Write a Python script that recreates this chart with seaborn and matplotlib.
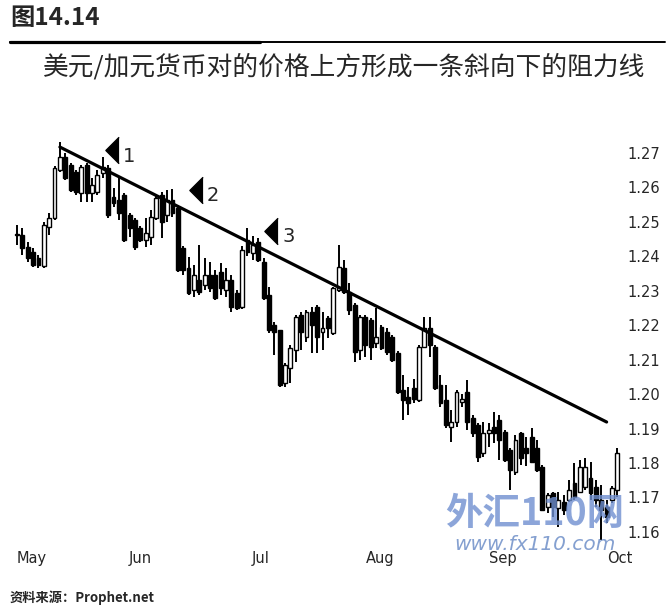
import numpy as np
import pandas as pd
import matplotlib
matplotlib.use("Agg")
import matplotlib.pyplot as plt
import seaborn as sns


OUTPUT = "out.png"

# daily USD/CAD candles, May -> Oct
opens = [
    1.2462, 1.2462, 1.2427, 1.2413, 1.2395, 1.2372, 1.2485, 1.2511, 1.2651, 1.2688,
    1.2665, 1.2645, 1.2584, 1.2665, 1.2584, 1.2587, 1.2642, 1.2656, 1.2572, 1.2564,
    1.2578, 1.2520, 1.2506, 1.2482, 1.2447, 1.2456, 1.2511, 1.2578, 1.2520, 1.2564,
    1.2540, 1.2424, 1.2366, 1.2303, 1.2332, 1.2317, 1.2346, 1.2346, 1.2355, 1.2303,
    1.2332, 1.2294, 1.2253, 1.2447, 1.2410, 1.2442, 1.2384, 1.2288, 1.2201, 1.2186,
    1.2033, 1.2076, 1.2128, 1.2230, 1.2166, 1.2238, 1.2253, 1.2180, 1.2221, 1.2178,
    1.2303, 1.2366, 1.2297, 1.2259, 1.2128, 1.2224, 1.2215, 1.2148, 1.2195, 1.2180,
    1.2166, 1.2119, 1.2012, 1.1992, 1.2018, 1.1983, 1.2137, 1.2192, 1.2137, 1.2027,
    1.1983, 1.1905, 1.1919, 1.1977, 1.2006, 1.1931, 1.1910, 1.1829, 1.1887, 1.1905,
    1.1925, 1.1890, 1.1838, 1.1774, 1.1887, 1.1844, 1.1876, 1.1844, 1.1788, 1.1672,
    1.1713, 1.1670, 1.1687, 1.1693, 1.1742, 1.1716, 1.1730, 1.1757, 1.1730, 1.1693,
    1.1672, 1.1693, 1.1722,
]
highs = [
    1.2491, 1.2482, 1.2442, 1.2424, 1.2404, 1.2500, 1.2526, 1.2662, 1.2732, 1.2700,
    1.2671, 1.2651, 1.2665, 1.2671, 1.2627, 1.2651, 1.2688, 1.2665, 1.2598, 1.2630,
    1.2584, 1.2526, 1.2511, 1.2488, 1.2511, 1.2535, 1.2578, 1.2587, 1.2593, 1.2596,
    1.2549, 1.2430, 1.2398, 1.2375, 1.2433, 1.2395, 1.2384, 1.2360, 1.2381, 1.2366,
    1.2346, 1.2303, 1.2430, 1.2482, 1.2459, 1.2453, 1.2395, 1.2311, 1.2209, 1.2186,
    1.2091, 1.2143, 1.2230, 1.2238, 1.2244, 1.2253, 1.2259, 1.2238, 1.2227, 1.2311,
    1.2433, 1.2389, 1.2323, 1.2265, 1.2230, 1.2230, 1.2221, 1.2250, 1.2201, 1.2192,
    1.2172, 1.2125, 1.2056, 1.2021, 1.2044, 1.2143, 1.2224, 1.2224, 1.2143, 1.2056,
    1.2027, 1.1954, 1.2012, 1.2000, 1.2041, 1.1940, 1.1916, 1.1919, 1.1916, 1.1948,
    1.1940, 1.1896, 1.1844, 1.1881, 1.1890, 1.1876, 1.1902, 1.1867, 1.1794, 1.1713,
    1.1716, 1.1716, 1.1707, 1.1751, 1.1800, 1.1809, 1.1815, 1.1803, 1.1751, 1.1736,
    1.1693, 1.1733, 1.1844,
]
lows = [
    1.2433, 1.2404, 1.2384, 1.2369, 1.2366, 1.2366, 1.2462, 1.2505, 1.2645, 1.2622,
    1.2587, 1.2578, 1.2558, 1.2558, 1.2558, 1.2578, 1.2627, 1.2511, 1.2543, 1.2506,
    1.2442, 1.2456, 1.2418, 1.2442, 1.2427, 1.2433, 1.2505, 1.2453, 1.2500, 1.2514,
    1.2355, 1.2346, 1.2288, 1.2282, 1.2288, 1.2303, 1.2297, 1.2274, 1.2288, 1.2282,
    1.2238, 1.2244, 1.2247, 1.2401, 1.2389, 1.2384, 1.2273, 1.2177, 1.2114, 1.2021,
    1.2021, 1.2033, 1.2093, 1.2128, 1.2151, 1.2120, 1.2120, 1.2128, 1.2163, 1.2172,
    1.2297, 1.2291, 1.2230, 1.2093, 1.2099, 1.2108, 1.2099, 1.2134, 1.2128, 1.2114,
    1.2093, 1.2000, 1.1925, 1.1940, 1.1974, 1.1977, 1.2134, 1.2108, 1.2012, 1.1963,
    1.1902, 1.1861, 1.1905, 1.1963, 1.1896, 1.1876, 1.1803, 1.1818, 1.1847, 1.1858,
    1.1809, 1.1803, 1.1722, 1.1765, 1.1794, 1.1791, 1.1800, 1.1774, 1.1660, 1.1655,
    1.1643, 1.1614, 1.1649, 1.1687, 1.1693, 1.1713, 1.1722, 1.1693, 1.1672, 1.1577,
    1.1626, 1.1684, 1.1701,
]
closes = [
    1.2465, 1.2424, 1.2395, 1.2375, 1.2375, 1.2491, 1.2511, 1.2656, 1.2688, 1.2627,
    1.2593, 1.2587, 1.2659, 1.2584, 1.2607, 1.2636, 1.2659, 1.2520, 1.2555, 1.2526,
    1.2447, 1.2482, 1.2427, 1.2447, 1.2468, 1.2514, 1.2569, 1.2500, 1.2564, 1.2526,
    1.2360, 1.2360, 1.2294, 1.2346, 1.2297, 1.2346, 1.2308, 1.2280, 1.2308, 1.2332,
    1.2253, 1.2250, 1.2418, 1.2413, 1.2433, 1.2389, 1.2279, 1.2186, 1.2180, 1.2027,
    1.2085, 1.2134, 1.2224, 1.2180, 1.2238, 1.2201, 1.2166, 1.2192, 1.2192, 1.2308,
    1.2369, 1.2297, 1.2244, 1.2122, 1.2224, 1.2143, 1.2137, 1.2166, 1.2134, 1.2122,
    1.2099, 1.2006, 1.1983, 1.1974, 1.1986, 1.2137, 1.2192, 1.2143, 1.2018, 1.1974,
    1.1910, 1.1919, 1.2006, 1.1986, 1.1919, 1.1887, 1.1818, 1.1887, 1.1896, 1.1887,
    1.1867, 1.1809, 1.1780, 1.1867, 1.1815, 1.1829, 1.1803, 1.1780, 1.1664, 1.1707,
    1.1672, 1.1693, 1.1664, 1.1722, 1.1701, 1.1789, 1.1789, 1.1713, 1.1693, 1.1664,
    1.1643, 1.1728, 1.1829,
]

month_labels = ["May", "Jun", "Jul", "Aug", "Sep", "Oct"]
month_pos = [2.8, 23.0, 45.5, 67.7, 90.6, 112.5]

price_ticks = [1.16, 1.17, 1.18, 1.19, 1.20, 1.21, 1.22, 1.23, 1.24, 1.25, 1.26, 1.27]

# resistance line touched three times
trend_x = [8.0, 110.0]
trend_y = [1.2717, 1.1919]

touch_labels = ["1", "2", "3"]
touch_x = [17.7, 33.4, 47.4]
touch_y = [1.2709, 1.2593, 1.2474]


def build_df():
    df = pd.DataFrame({"open": opens, "high": highs, "low": lows, "close": closes})
    df["day"] = np.arange(len(df))
    df["up"] = df["close"] >= df["open"]
    df["body_low"] = df[["open", "close"]].min(axis=1)
    df["body_h"] = (df["close"] - df["open"]).abs().clip(lower=0.0004)
    return df


def plot_candles(ax, df):
    ax.vlines(df["day"], df["low"], df["high"], color="black", linewidth=1.4, zorder=1)
    fills = np.where(df["up"], "white", "black")
    ax.bar(df["day"], df["body_h"], bottom=df["body_low"], width=0.72,
           color=fills, edgecolor="black", linewidth=1.0, zorder=2)


def main():
    sns.set_style("white")
    plt.rcParams["font.family"] = ["DejaVu Sans", "Noto Sans CJK SC"]

    df = build_df()

    fig = plt.figure(figsize=(6.69, 6.10), dpi=100)
    W, H = 669, 610
    ax = fig.add_axes([10 / W, 1 - 545 / H, 615 / W, 410 / H])

    plot_candles(ax, df)

    sns.lineplot(x=trend_x, y=trend_y, color="black", linewidth=2.3, ax=ax, zorder=3)

    tri = [(0.5, 1.0), (-0.5, 0.0), (0.5, -1.0)]
    ax.plot(touch_x, touch_y, linestyle="none", marker=tri, markersize=19,
            color="black", zorder=4)
    for lab, x, y in zip(touch_labels, touch_x, touch_y):
        ax.text(x + 3.2, y - 0.0018, lab, fontsize=14, ha="center", va="center")

    ax.set_xlim(-1.31, 113.43)
    ax.set_ylim(1.1562, 1.2752)
    ax.set_xticks(month_pos)
    ax.set_xticklabels(month_labels, fontsize=10.5)
    ax.set_yticks(price_ticks)
    ax.set_yticklabels([f"{t:.2f}" for t in price_ticks], fontsize=10.5)
    ax.yaxis.tick_right()
    ax.tick_params(axis="y", length=0, pad=1.5)
    ax.tick_params(axis="x", length=0, pad=4)
    for s in ax.spines.values():
        s.set_visible(False)
    ax.grid(False)

    cjk = ["Noto Sans CJK SC", "DejaVu Sans"]
    fig.text(10 / W, 1 - 18 / H, "图14.14", fontsize=17.5, fontweight="bold",
             family=cjk, ha="left", va="center")
    fig.add_artist(plt.Line2D([10 / W, 665 / W], [1 - 42 / H, 1 - 42 / H],
                              color="black", linewidth=1.4))
    fig.add_artist(plt.Line2D([10 / W, 260 / W], [1 - 42 / H, 1 - 42 / H],
                              color="black", linewidth=2.3))
    fig.text(344 / W, 1 - 67 / H, "美元/加元货币对的价格上方形成一条斜向下的阻力线",
             fontsize=18.5, family=cjk, ha="center", va="center")
    fig.text(10 / W, 1 - 598 / H, "资料来源：Prophet.net", fontsize=9.5,
             fontweight="bold", family=cjk, ha="left", va="center")

    # watermark
    fig.text(535 / W, 1 - 514 / H, "外汇110网", fontsize=27, fontweight="bold",
             style="italic", family=cjk, color="#6f8fd0", alpha=0.8,
             ha="center", va="center")
    fig.text(535 / W, 1 - 544 / H, "www.fx110.com", fontsize=14.5, style="italic",
             color="#6f8fc8", alpha=0.85, ha="center", va="center")

    fig.savefig(OUTPUT, dpi=100)
    plt.close(fig)


if __name__ == "__main__":
    main()
